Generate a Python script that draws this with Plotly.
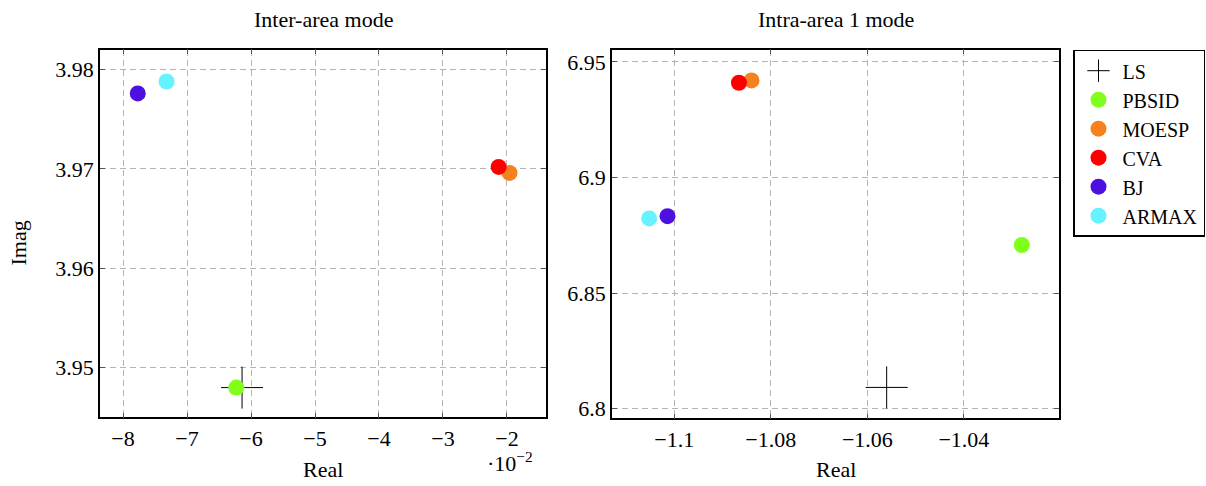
import plotly.graph_objects as go

# ---- data ----
methods = ["LS", "PBSID", "MOESP", "CVA", "BJ", "ARMAX"]
colors = ["#000000", "#80ff1a", "#f5821f", "#ff0000", "#4d10e0", "#66f2ff"]

inter_real = [-0.0614, -0.0623, -0.0196, -0.0213, -0.0777, -0.0732]
inter_imag = [3.9480, 3.9480, 3.9696, 3.9702, 3.9776, 3.9788]

intra_real = [-1.0560, -1.0280, -1.0840, -1.0866, -1.1014, -1.1052]
intra_imag = [6.8092, 6.8708, 6.9420, 6.9410, 6.8833, 6.8823]

inter_xticks = [-0.08, -0.07, -0.06, -0.05, -0.04, -0.03, -0.02]
inter_xtext = ["−8", "−7", "−6", "−5", "−4", "−3", "−2"]
inter_yticks = [3.95, 3.96, 3.97, 3.98]
inter_ytext = ["3.95", "3.96", "3.97", "3.98"]
intra_xticks = [-1.10, -1.08, -1.06, -1.04]
intra_xtext = ["−1.1", "−1.08", "−1.06", "−1.04"]
intra_yticks = [6.80, 6.85, 6.90, 6.95]
intra_ytext = ["6.8", "6.85", "6.9", "6.95"]

W, H = 1206, 486
FONT = "Liberation Serif"
FS = 22

fig = go.Figure()

for i, m in enumerate(methods):
    if m == "LS":
        marker = dict(symbol="cross-thin", size=30, color="black",
                      line=dict(color="black", width=1))
    else:
        marker = dict(symbol="circle", size=16, color=colors[i],
                      line=dict(width=0))
    fig.add_trace(go.Scatter(x=[inter_real[i]], y=[inter_imag[i]], mode="markers",
                             marker=marker, name=m, legendgroup=m, showlegend=False,
                             xaxis="x", yaxis="y"))
    fig.add_trace(go.Scatter(x=[intra_real[i]], y=[intra_imag[i]], mode="markers",
                             marker=marker, name=m, legendgroup=m, showlegend=True,
                             xaxis="x2", yaxis="y2"))

def px_x(p):
    return p / W

def px_y(p):
    return 1 - p / H

axis_common = dict(
    showline=True, linecolor="black", linewidth=1.5, mirror="ticks",
    ticks="inside", ticklen=5, tickcolor="#555555", tickwidth=1,
    showgrid=True, gridcolor="#b4b4b4", gridwidth=1, griddash="6px,4px",
    zeroline=False, tickfont=dict(family=FONT, size=FS, color="black"),
)

fig.update_layout(
    width=W, height=H, autosize=False,
    margin=dict(l=0, r=0, t=0, b=0),
    paper_bgcolor="white", plot_bgcolor="white",
    font=dict(family=FONT, size=FS, color="black"),
    xaxis=dict(domain=[px_x(100), px_x(546)], range=[-0.0836, -0.0139],
               tickvals=inter_xticks, ticktext=inter_xtext, anchor="y", **axis_common),
    yaxis=dict(domain=[px_y(420), px_y(50)], range=[3.9450, 3.9820],
               tickvals=inter_yticks, ticktext=inter_ytext, anchor="x", **axis_common),
    xaxis2=dict(domain=[px_x(612), px_x(1059)], range=[-1.1129, -1.0203],
                tickvals=intra_xticks, ticktext=intra_xtext, anchor="y2", **axis_common),
    yaxis2=dict(domain=[px_y(421), px_y(50)], range=[6.7958, 6.9553],
                tickvals=intra_yticks, ticktext=intra_ytext, anchor="x2", **axis_common),
    legend=dict(x=px_x(1073), y=px_y(50), xanchor="left", yanchor="top",
                bordercolor="black", borderwidth=1.5, bgcolor="white",
                font=dict(family=FONT, size=20), tracegroupgap=0,
                itemsizing="trace", itemwidth=38),
    showlegend=True,
)

annos = [
    dict(text="Inter-area mode", x=px_x(323), y=px_y(20)),
    dict(text="Intra-area 1 mode", x=px_x(836), y=px_y(20)),
    dict(text="Real", x=px_x(323), y=px_y(472)),
    dict(text="Real", x=px_x(836), y=px_y(472)),
    dict(text="Imag", x=px_x(18), y=px_y(245), textangle=-90),
    dict(text="·10<sup>−2</sup>", x=px_x(510), y=px_y(465)),
]
for a in annos:
    fig.add_annotation(xref="paper", yref="paper", showarrow=False,
                       xanchor="center", yanchor="middle",
                       font=dict(family=FONT, size=FS, color="black"), **a)

fig.write_html("out.html", config={"displayModeBar": False},
               post_script="document.body.style.margin='0';document.body.style.overflow='hidden';")
